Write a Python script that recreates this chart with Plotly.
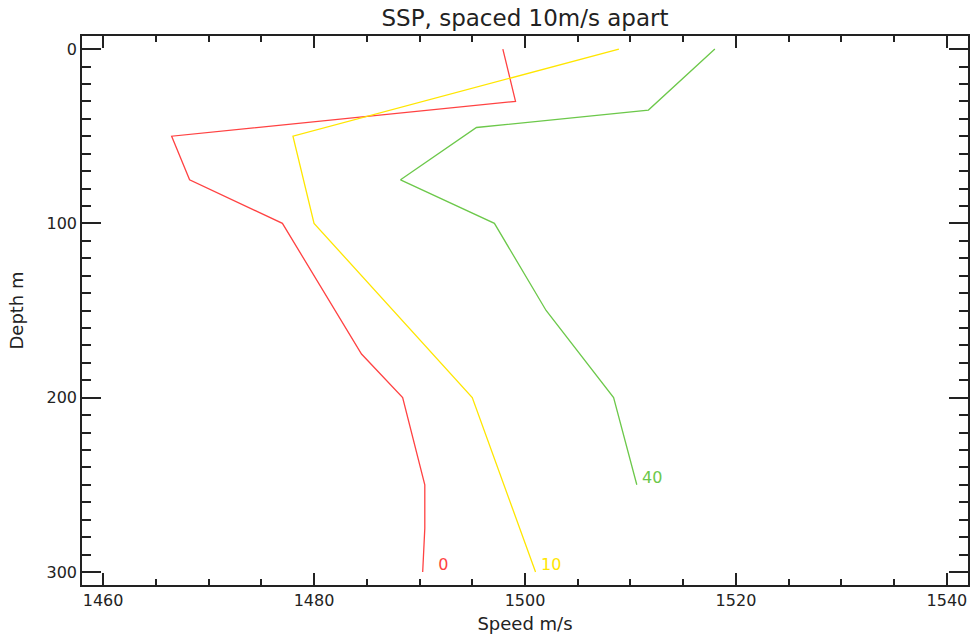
import plotly.graph_objects as go

# Sound speed profiles (speed m/s vs depth m)
red_depth = [0, 30, 50, 75, 100, 175, 200, 250, 275, 300]
red_speed = [1497.9, 1499.1, 1466.5, 1468.2, 1477.0, 1484.5, 1488.4, 1490.5, 1490.5, 1490.3]

yellow_depth = [0, 50, 100, 200, 300]
yellow_speed = [1508.9, 1478.0, 1480.0, 1495.0, 1501.0]

green_depth = [0, 35, 45, 75, 100, 150, 200, 250]
green_speed = [1518.0, 1511.7, 1495.4, 1488.2, 1497.1, 1502.0, 1508.4, 1510.6]

profile_labels = [0, 10, 40]
colors = ["#ff4242", "#ffe600", "#6cc84a"]

x_ticks = [1460, 1480, 1500, 1520, 1540]
y_ticks = [0, 100, 200, 300]

FONT = "DejaVu Sans"
INK = "#222222"

fig = go.Figure()
series = [(red_speed, red_depth), (yellow_speed, yellow_depth), (green_speed, green_depth)]
for (sx, sy), c, lab in zip(series, colors, profile_labels):
    fig.add_trace(go.Scatter(x=sx, y=sy, mode="lines",
                             line=dict(color=c, width=1.3), showlegend=False,
                             hoverinfo="skip"))
    txt = f"{lab:>2}".replace(" ", "\u2007")
    fig.add_annotation(x=sx[-1], y=sy[-1], text=txt, showarrow=False,
                       xanchor="left", yanchor="bottom", xshift=3, yshift=-4,
                       font=dict(family=FONT, size=16, color=c))

fig.update_layout(
    width=972, height=639,
    margin=dict(l=82, r=4, t=36, b=54, autoexpand=False),
    paper_bgcolor="white", plot_bgcolor="white",
    title=dict(text="SSP, spaced 10m/s apart", x=0.5, xref="paper", xanchor="center",
               y=1 - 18 / 639, yanchor="middle",
               font=dict(family=FONT, size=23, color=INK)),
    font=dict(family=FONT, color=INK),
)
fig.update_xaxes(
    range=[1458, 1542], tickvals=x_ticks, ticktext=[str(v) for v in x_ticks],
    ticks="inside", ticklen=12, tickwidth=1.5, tickcolor=INK,
    minor=dict(dtick=5, ticks="inside", ticklen=6, tickwidth=1.5, tickcolor=INK, showgrid=False),
    showline=True, linecolor=INK, linewidth=1.5, mirror="ticks",
    showgrid=False, zeroline=False, automargin=False,
    tickfont=dict(family=FONT, size=16, color=INK),
    title=dict(text="Speed m/s", font=dict(family=FONT, size=18, color=INK), standoff=8),
)
fig.update_yaxes(
    range=[307.5, -7.5], tickvals=y_ticks, ticktext=[str(v) for v in y_ticks],
    ticks="inside", ticklen=19, tickwidth=1.5, tickcolor=INK,
    minor=dict(dtick=10, ticks="inside", ticklen=9, tickwidth=1.5, tickcolor=INK, showgrid=False),
    showline=True, linecolor=INK, linewidth=1.5, mirror="ticks",
    showgrid=False, zeroline=False, automargin=False,
    tickfont=dict(family=FONT, size=16, color=INK),
    title=dict(text="Depth m", font=dict(family=FONT, size=18, color=INK), standoff=18),
)

fig.write_html("out.html", config={"displayModeBar": False},
               post_script="document.body.style.margin='0';")
